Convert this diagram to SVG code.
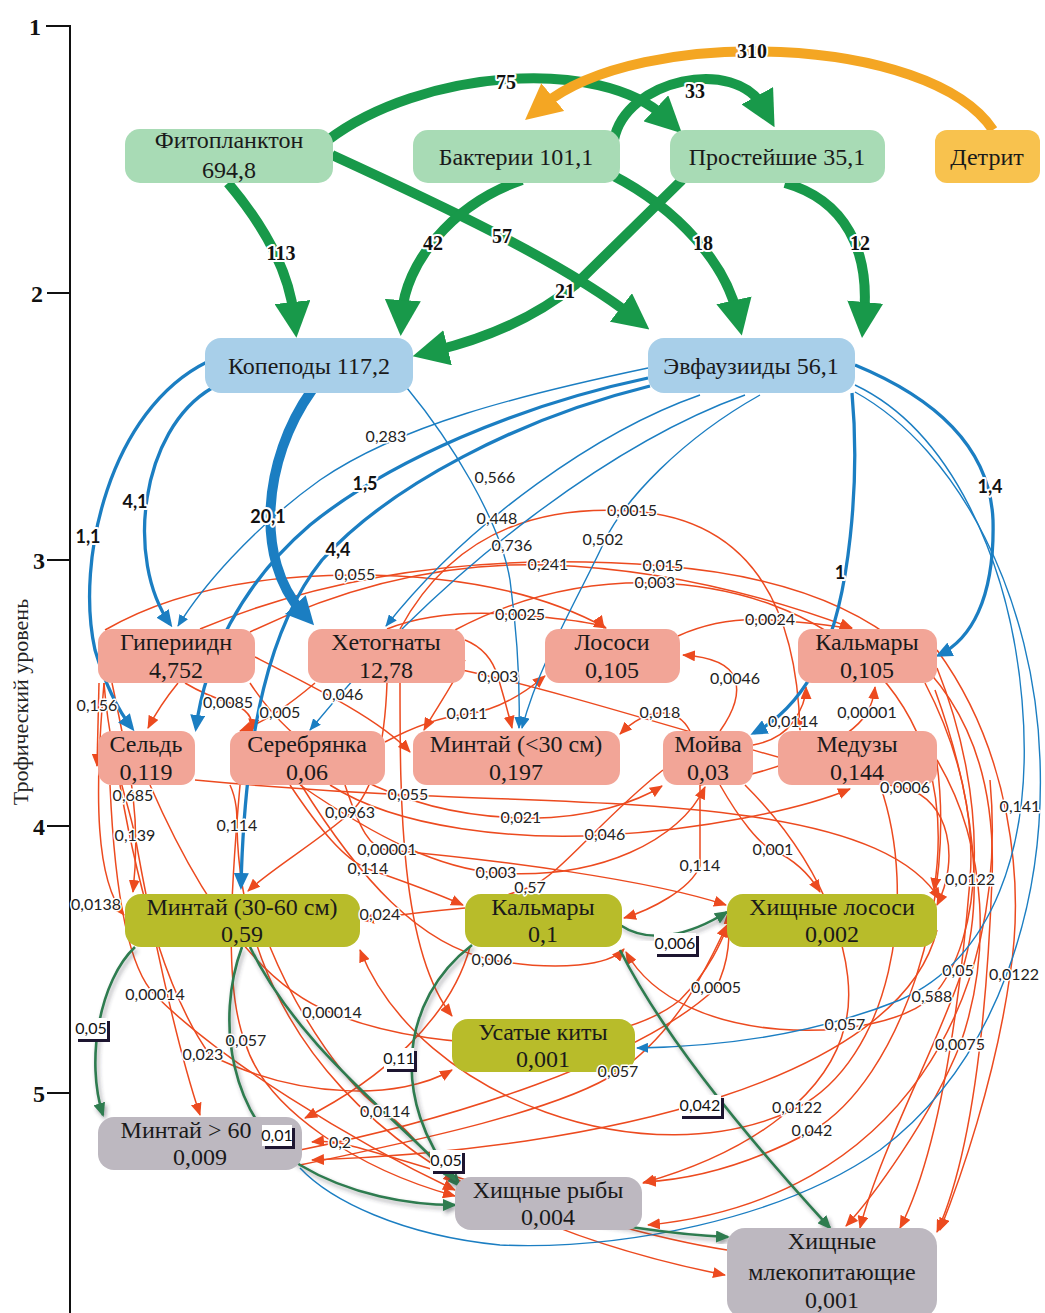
<svg xmlns="http://www.w3.org/2000/svg" width="1045" height="1313" viewBox="0 0 1045 1313">
<style>
.nt{font-family:"Liberation Serif",serif;font-size:24px;fill:#1a1a1a;text-anchor:middle}
.axn{font-family:"Liberation Serif",serif;font-size:24px;font-weight:bold;fill:#111;text-anchor:middle}
.axt{font-family:"Liberation Serif",serif;font-size:22px;fill:#222;text-anchor:middle}
.g{fill:none;stroke:#18994a;stroke-width:10;marker-end:url(#mg)}
.o{fill:none;stroke:#f4a623;stroke-width:10;marker-end:url(#mo)}
.bt{fill:none;stroke:#1b7ec2;stroke-width:1.4;marker-end:url(#mbt)}
.bm{fill:none;stroke:#1b7ec2;stroke-width:3.3;marker-end:url(#mbm)}
.bk{fill:none;stroke:#1b7ec2;stroke-width:10;marker-end:url(#mbk)}
.r{fill:none;stroke:#ec4a1f;stroke-width:1.5;marker-end:url(#mr)}
.dg{fill:none;stroke:#2e7b50;stroke-width:2.6;marker-end:url(#mdg);filter:url(#sh)}
.lt{font-family:"Liberation Serif",serif;font-size:20px;font-weight:bold;fill:#111;text-anchor:middle;paint-order:stroke;stroke:#fff;stroke-width:4px;stroke-linejoin:round}
.lbb{font-family:Lato,"Liberation Sans",sans-serif;font-size:18px;font-weight:bold;fill:#111;text-anchor:middle;paint-order:stroke;stroke:#fff;stroke-width:4px;stroke-linejoin:round}
.ls{font-family:Lato,"Liberation Sans",sans-serif;font-size:16px;fill:#222;text-anchor:middle;paint-order:stroke;stroke:#fff;stroke-width:3px;stroke-linejoin:round}
.lx{font-family:Lato,"Liberation Sans",sans-serif;font-size:16px;fill:#111;text-anchor:middle}
.bx{fill:#fff}
.bxs{fill:#1d1530}
.cg{fill:#a8dbb5}.cd{fill:#f8c24e}.cb{fill:#a8cfe9}.cs{fill:#f2a597}.co{fill:#b8bc2a}.cy{fill:#bdb8c0}
</style>
<defs>
<marker id="mg" markerUnits="userSpaceOnUse" markerWidth="36" markerHeight="36" viewBox="0 0 36 36" refX="14" refY="18" orient="auto"><path d="M0,0 L36,18 L0,36 z" fill="#18994a"/></marker>
<marker id="mo" markerUnits="userSpaceOnUse" markerWidth="36" markerHeight="36" viewBox="0 0 36 36" refX="14" refY="18" orient="auto"><path d="M0,0 L36,18 L0,36 z" fill="#f4a623"/></marker>
<marker id="mbk" markerUnits="userSpaceOnUse" markerWidth="28" markerHeight="28" viewBox="0 0 28 28" refX="10" refY="14" orient="auto"><path d="M0,0 L28,14 L0,28 z" fill="#1b7ec2"/></marker>
<marker id="mbm" markerUnits="userSpaceOnUse" markerWidth="17" markerHeight="15" viewBox="0 0 17 15" refX="13" refY="7.5" orient="auto"><path d="M0,0 L17,7.5 L0,15 z" fill="#1b7ec2"/></marker>
<marker id="mbt" markerUnits="userSpaceOnUse" markerWidth="12" markerHeight="10" viewBox="0 0 12 10" refX="11" refY="5" orient="auto"><path d="M0,0 L12,5 L0,10 z" fill="#1b7ec2"/></marker>
<marker id="mr" markerUnits="userSpaceOnUse" markerWidth="13" markerHeight="11" viewBox="0 0 13 11" refX="12" refY="5.5" orient="auto"><path d="M0,0 L13,5.5 L0,11 z" fill="#ec4a1f"/></marker>
<marker id="mdg" markerUnits="userSpaceOnUse" markerWidth="14" markerHeight="12" viewBox="0 0 14 12" refX="12" refY="6" orient="auto"><path d="M0,0 L14,6 L0,12 z" fill="#2e7b50"/></marker>
<filter id="sh" x="-10%" y="-10%" width="130%" height="130%"><feDropShadow dx="2" dy="3" stdDeviation="2" flood-color="#303040" flood-opacity="0.45"/></filter>
</defs>

<g id="axis">
<line x1="70" y1="26" x2="70" y2="1313" stroke="#111" stroke-width="2"/>
<line x1="46" y1="26" x2="71" y2="26" stroke="#111" stroke-width="2"/>
<line x1="47" y1="293" x2="70" y2="293" stroke="#111" stroke-width="2"/>
<line x1="47" y1="560" x2="70" y2="560" stroke="#111" stroke-width="2"/>
<line x1="47" y1="826" x2="70" y2="826" stroke="#111" stroke-width="2"/>
<line x1="47" y1="1093" x2="70" y2="1093" stroke="#111" stroke-width="2"/>
<text class="axn" x="35" y="35">1</text>
<text class="axn" x="37" y="302">2</text>
<text class="axn" x="39" y="569">3</text>
<text class="axn" x="39" y="835">4</text>
<text class="axn" x="39" y="1102">5</text>
<text class="axt" transform="translate(28,702) rotate(-90)">Трофический уровень</text>
</g>

<g id="connectors">
<g id="red">
<path class="r" d="M400,629 Q470,500 632,511 T800,730"/>
<path class="r" d="M250,632 Q400,560 548,565 T852,628"/>
<path class="r" d="M200,629 Q400,545 663,566 C880,583 1000,680 992,880 C985,1060 965,1170 937,1232"/>
<path class="r" d="M455,630 Q550,580 655,583 C820,588 965,690 934,890"/>
<path class="r" d="M105,630 Q200,575 355,575 T606,628"/>
<path class="r" d="M387,629 Q440,608 520,615 T604,628"/>
<path class="r" d="M678,636 Q720,617 770,620 T852,629"/>
<path class="r" d="M465,640 Q490,650 498,677 T512,728"/>
<path class="r" d="M720,731 Q742,700 735,679 T683,655"/>
<path class="r" d="M185,683 Q205,695 230,703 T252,731"/>
<path class="r" d="M315,683 Q295,700 277,712 T240,731"/>
<path class="r" d="M99,683 L97,766"/>
<path class="r" d="M385,742 Q430,718 467,714 T545,676"/>
<path class="r" d="M690,731 Q680,712 660,713 T620,734"/>
<path class="r" d="M753,745 Q780,740 793,722 T806,687"/>
<path class="r" d="M700,785 C790,770 850,740 867,713 C872,704 874,696 875,687"/>
<path class="r" d="M462,670 C600,700 800,770 905,788 C950,800 960,860 937,905"/>
<path class="r" d="M112,683 C122,730 130,770 133,796 C137,830 136,865 133,892"/>
<path class="r" d="M104,683 C110,760 128,800 135,836 C150,920 175,1040 200,1115"/>
<path class="r" d="M104,683 C94,800 96,880 124,915"/>
<path class="r" d="M230,785 C237,800 237,815 237,826 C240,1000 350,1200 725,1275"/>
<path class="r" d="M195,780 Q300,790 408,795 C620,805 880,800 940,900"/>
<path class="r" d="M387,683 C385,740 375,790 350,813 C320,840 270,870 248,891"/>
<path class="r" d="M250,683 C300,760 400,815 521,818 C590,820 640,800 662,786"/>
<path class="r" d="M330,785 C400,830 520,840 605,835 C700,830 800,810 850,789"/>
<path class="r" d="M345,785 C360,830 370,848 387,850 C500,860 650,880 726,905"/>
<path class="r" d="M290,785 C320,830 345,860 368,869 C400,880 440,895 463,905"/>
<path class="r" d="M720,785 C740,820 760,845 773,850 C795,860 810,875 820,892"/>
<path class="r" d="M700,785 C700,820 700,850 700,866 C690,890 650,910 624,918"/>
<path class="r" d="M300,785 C380,840 440,868 496,873 C600,880 680,840 705,787"/>
<path class="r" d="M663,770 C600,820 560,875 530,887 C500,898 480,903 467,906"/>
<path class="r" d="M465,908 Q420,912 362,920"/>
<path class="r" d="M300,783 C360,880 420,945 492,960 C560,972 610,965 624,949"/>
<path class="r" d="M300,1150 C450,1120 640,1060 716,988 C730,960 730,935 728,912"/>
<path class="r" d="M300,1165 C420,1140 560,1110 618,1072 C680,1030 710,960 727,925"/>
<path class="r" d="M745,785 C830,870 860,970 845,1025 C830,1090 760,1150 643,1183"/>
<path class="r" d="M937,668 C990,800 985,940 932,997 C880,1045 680,1050 626,952"/>
<path class="r" d="M925,683 C960,750 975,820 970,880 C960,1000 940,1150 900,1228"/>
<path class="r" d="M935,690 C975,800 985,900 962,971 C940,1040 880,1150 860,1228"/>
<path class="r" d="M937,650 C1010,750 1025,880 1010,975 C995,1080 960,1180 940,1230"/>
<path class="r" d="M937,760 C990,850 990,960 960,1045 C930,1120 870,1200 846,1226"/>
<path class="r" d="M110,785 C115,900 130,970 155,995 C220,1060 350,1140 455,1190"/>
<path class="r" d="M150,785 C200,900 260,985 332,1013 C450,1060 620,1050 680,1000 C710,970 722,940 728,925"/>
<path class="r" d="M120,785 C140,900 170,1000 210,1055 C300,1100 400,1100 452,1070"/>
<path class="r" d="M240,785 C230,900 225,990 245,1042 C265,1110 360,1170 455,1196"/>
<path class="r" d="M270,947 C300,1020 350,1090 385,1112 C410,1130 430,1160 455,1183"/>
<path class="r" d="M727,1250 C600,1230 450,1170 340,1143 C330,1141 322,1141 312,1142"/>
<path class="r" d="M937,930 C900,1080 600,1150 312,1160"/>
<path class="r" d="M880,785 C920,900 890,1060 797,1108 C650,1180 420,1100 360,950"/>
<path class="r" d="M935,750 C960,900 900,1080 812,1131 C740,1170 680,1180 644,1182"/>
<path class="r" d="M990,780 C1010,1000 900,1200 648,1225"/>
<path class="r" d="M178,683 Q160,705 148,728"/>
<path class="r" d="M400,683 C400,800 400,950 452,1016"/>
<path class="r" d="M255,657 C320,690 380,720 410,752"/>
<path class="r" d="M465,660 C450,690 435,710 424,730"/>
<path class="r" d="M470,947 C450,1020 380,1080 305,1118"/>
</g>
<g id="blue">
<path class="bt" d="M648,368 C520,395 400,425 320,480 C250,530 200,590 178,626"/>
<path class="bm" d="M648,378 C520,405 390,460 310,525 C240,585 205,660 196,728"/>
<path class="bm" d="M650,386 C520,418 390,485 322,560 C270,625 245,730 241,886"/>
<path class="bt" d="M700,395 C600,430 470,520 386,626"/>
<path class="bt" d="M745,395 C620,440 450,560 310,730"/>
<path class="bt" d="M760,395 C680,440 625,500 605,540 C585,585 540,660 522,728"/>
<path class="bt" d="M407,388 C450,440 500,520 510,580 C518,640 520,690 519,728"/>
<path class="bm" d="M852,393 C860,480 850,600 820,660 C800,700 775,722 754,733"/>
<path class="bm" d="M855,365 C940,400 990,450 993,520 C995,600 970,640 939,655"/>
<path class="bt" d="M855,385 C950,430 1010,560 1022,700 C1035,850 990,960 900,1000 C800,1040 700,1047 637,1048"/>
<path fill="none" stroke="#1b7ec2" stroke-width="1.4" d="M855,392 C960,450 1035,600 1040,760 C1045,900 1000,1060 880,1150 C780,1220 620,1250 500,1245 C400,1235 330,1200 300,1168"/>
<path class="bm" d="M207,362 C110,410 75,560 95,650 Q110,700 132,728"/>
<path class="bm" d="M212,388 C140,430 125,560 170,624"/>
<path class="bk" d="M312,390 C262,460 255,560 302,612"/>
</g>
<g id="darkgreen">
<path class="dg" d="M135,947 C100,980 85,1060 103,1115"/>
<path class="dg" d="M242,947 C215,1020 230,1120 300,1165 C350,1195 410,1205 455,1205"/>
<path class="dg" d="M250,947 C300,1050 400,1120 460,1186"/>
<path class="dg" d="M472,945 C400,1000 390,1100 455,1180"/>
<path class="dg" d="M620,925 C650,945 690,935 727,912"/>
<path class="dg" d="M620,950 C660,1030 740,1130 830,1228"/>
<path class="dg" d="M520,1205 C600,1225 680,1235 728,1237"/>
</g>
<g id="top">
<path class="g" d="M328,140 C420,70 600,55 666,118"/>
<path class="g" d="M614,140 C625,80 735,55 764,108"/>
<path class="o" d="M993,130 C930,35 640,25 542,106"/>
<path class="g" d="M228,183 C255,215 288,262 294,316"/>
<path class="g" d="M332,155 C430,200 560,260 632,316"/>
<path class="g" d="M522,180 C450,205 405,265 402,314"/>
<path class="g" d="M612,175 C680,210 726,265 737,314"/>
<path class="g" d="M682,180 L575,285 Q520,330 434,351"/>
<path class="g" d="M785,183 C845,200 870,250 864,316"/>
</g>
</g>

<g id="nodes">
<g id="n-phyto"><rect class="cg" x="125" y="129" width="208" height="54" rx="15"/><text class="nt" x="229" y="148">Фитопланктон</text><text class="nt" x="229" y="178">694,8</text></g>
<g id="n-bact"><rect class="cg" x="413" y="130" width="207" height="53" rx="15"/><text class="nt" x="516" y="165">Бактерии 101,1</text></g>
<g id="n-prot"><rect class="cg" x="670" y="130" width="215" height="53" rx="15"/><text class="nt" x="777" y="165">Простейшие 35,1</text></g>
<g id="n-detr"><rect class="cd" x="935" y="130" width="105" height="53" rx="12"/><text class="nt" x="987" y="165">Детрит</text></g>
<g id="n-cop"><rect class="cb" x="205" y="338" width="208" height="55" rx="16"/><text class="nt" x="309" y="374">Копеподы 117,2</text></g>
<g id="n-euph"><rect class="cb" x="648" y="338" width="207" height="55" rx="16"/><text class="nt" x="751" y="374">Эвфаузииды 56,1</text></g>
<g id="n-hyp"><rect class="cs" x="98" y="629" width="157" height="54" rx="14"/><text class="nt" x="176" y="650">Гипериидн</text><text class="nt" x="176" y="678">4,752</text></g>
<g id="n-chaet"><rect class="cs" x="308" y="629" width="157" height="54" rx="14"/><text class="nt" x="386" y="650">Хетогнаты</text><text class="nt" x="386" y="678">12,78</text></g>
<g id="n-salm"><rect class="cs" x="545" y="629" width="135" height="54" rx="14"/><text class="nt" x="612" y="650">Лососи</text><text class="nt" x="612" y="678">0,105</text></g>
<g id="n-squid1"><rect class="cs" x="798" y="629" width="139" height="54" rx="14"/><text class="nt" x="867" y="650">Кальмары</text><text class="nt" x="867" y="678">0,105</text></g>
<g id="n-herr"><rect class="cs" x="98" y="731" width="97" height="54" rx="14"/><text class="nt" x="146" y="752">Сельдь</text><text class="nt" x="146" y="780">0,119</text></g>
<g id="n-smelt"><rect class="cs" x="230" y="731" width="155" height="54" rx="14"/><text class="nt" x="307" y="752">Серебрянка</text><text class="nt" x="307" y="780">0,06</text></g>
<g id="n-poll1"><rect class="cs" x="413" y="731" width="207" height="54" rx="14"/><text class="nt" x="516" y="752">Минтай (&lt;30 см)</text><text class="nt" x="516" y="780">0,197</text></g>
<g id="n-cap"><rect class="cs" x="663" y="731" width="90" height="54" rx="14"/><text class="nt" x="708" y="752">Мойва</text><text class="nt" x="708" y="780">0,03</text></g>
<g id="n-jelly"><rect class="cs" x="778" y="731" width="159" height="54" rx="14"/><text class="nt" x="857" y="752">Медузы</text><text class="nt" x="857" y="780">0,144</text></g>
<g id="n-poll2"><rect class="co" x="125" y="894" width="235" height="53" rx="16"/><text class="nt" x="242" y="915">Минтай (30-60 см)</text><text class="nt" x="242" y="942">0,59</text></g>
<g id="n-squid2"><rect class="co" x="465" y="894" width="157" height="53" rx="16"/><text class="nt" x="543" y="915">Кальмары</text><text class="nt" x="543" y="942">0,1</text></g>
<g id="n-psalm"><rect class="co" x="727" y="894" width="210" height="53" rx="16"/><text class="nt" x="832" y="915">Хищные лососи</text><text class="nt" x="832" y="942">0,002</text></g>
<g id="n-whale"><rect class="co" x="452" y="1019" width="183" height="53" rx="16"/><text class="nt" x="543" y="1040">Усатые киты</text><text class="nt" x="543" y="1067">0,001</text></g>
<g id="n-poll3"><rect class="cy" x="98" y="1117" width="204" height="53" rx="16"/><text class="nt" x="186" y="1138">Минтай &gt; 60</text><text class="nt" x="200" y="1165">0,009</text></g>
<g id="n-pfish"><rect class="cy" x="455" y="1177" width="187" height="53" rx="16"/><text class="nt" x="548" y="1198">Хищные рыбы</text><text class="nt" x="548" y="1225">0,004</text></g>
<g id="n-pmam"><rect class="cy" x="727" y="1228" width="210" height="90" rx="18"/><text class="nt" x="832" y="1249">Хищные</text><text class="nt" x="832" y="1280">млекопитающие</text><text class="nt" x="832" y="1308">0,001</text></g>
</g>

<g id="labels">
<text class="lt" x="506" y="89">75</text>
<text class="lt" x="695" y="98">33</text>
<text class="lt" x="752" y="58">310</text>
<text class="lt" x="281" y="260">113</text>
<text class="lt" x="502" y="243">57</text>
<text class="lt" x="433" y="250">42</text>
<text class="lt" x="703" y="250">18</text>
<text class="lt" x="565" y="298">21</text>
<text class="lt" x="860" y="250">12</text>

<text class="lbb" x="88" y="543">1,1</text>
<text class="lbb" x="135" y="508">4,1</text>
<text class="lbb" x="268" y="523">20,1</text>
<text class="lbb" x="365" y="490">1,5</text>
<text class="lbb" x="338" y="556">4,4</text>
<text class="lbb" x="840" y="579">1</text>
<text class="lbb" x="990" y="493">1,4</text>

<text class="ls" x="386" y="442">0,283</text>
<text class="ls" x="495" y="483">0,566</text>
<text class="ls" x="497" y="524">0,448</text>
<text class="ls" x="512" y="551">0,736</text>
<text class="ls" x="603" y="545">0,502</text>
<text class="ls" x="343" y="700">0,046</text>
<text class="ls" x="1020" y="812">0,141</text>

<text class="ls" x="632" y="516">0,0015</text>
<text class="ls" x="548" y="570">0,241</text>
<text class="ls" x="663" y="571">0,015</text>
<text class="ls" x="655" y="588">0,003</text>
<text class="ls" x="355" y="580">0,055</text>
<text class="ls" x="520" y="620">0,0025</text>
<text class="ls" x="770" y="625">0,0024</text>
<text class="ls" x="498" y="682">0,003</text>
<text class="ls" x="735" y="684">0,0046</text>
<text class="ls" x="228" y="708">0,0085</text>
<text class="ls" x="280" y="718">0,005</text>
<text class="ls" x="97" y="711">0,156</text>
<text class="ls" x="467" y="719">0,011</text>
<text class="ls" x="660" y="718">0,018</text>
<text class="ls" x="793" y="727">0,0114</text>
<text class="ls" x="867" y="718">0,00001</text>
<text class="ls" x="133" y="801">0,685</text>
<text class="ls" x="408" y="800">0,055</text>
<text class="ls" x="350" y="818">0,0963</text>
<text class="ls" x="521" y="823">0,021</text>
<text class="ls" x="905" y="793">0,0006</text>
<text class="ls" x="135" y="841">0,139</text>
<text class="ls" x="237" y="831">0,114</text>
<text class="ls" x="605" y="840">0,046</text>
<text class="ls" x="387" y="855">0,00001</text>
<text class="ls" x="368" y="874">0,114</text>
<text class="ls" x="773" y="855">0,001</text>
<text class="ls" x="700" y="871">0,114</text>
<text class="ls" x="496" y="878">0,003</text>
<text class="ls" x="530" y="893">0,57</text>
<text class="ls" x="96" y="910">0,0138</text>
<text class="ls" x="380" y="920">0,024</text>
<text class="ls" x="970" y="885">0,0122</text>
<text class="ls" x="492" y="965">0,006</text>
<text class="ls" x="716" y="993">0,0005</text>
<text class="ls" x="958" y="976">0,05</text>
<text class="ls" x="1014" y="980">0,0122</text>
<text class="ls" x="932" y="1002">0,588</text>
<text class="ls" x="155" y="1000">0,00014</text>
<text class="ls" x="332" y="1018">0,00014</text>
<text class="ls" x="845" y="1030">0,057</text>
<text class="ls" x="960" y="1050">0,0075</text>
<text class="ls" x="203" y="1060">0,023</text>
<text class="ls" x="246" y="1046">0,057</text>
<text class="ls" x="618" y="1077">0,057</text>
<text class="ls" x="385" y="1117">0,0114</text>
<text class="ls" x="797" y="1113">0,0122</text>
<text class="ls" x="812" y="1136">0,042</text>
<text class="ls" x="340" y="1148">0,2</text>

<g id="boxed-labels">
<rect class="bxs" x="78" y="1021" width="32" height="21"/><rect class="bx" x="75" y="1018" width="32" height="21"/><text class="lx" x="91" y="1034">0,05</text>
<rect class="bxs" x="657" y="936" width="42" height="21"/><rect class="bx" x="654" y="933" width="42" height="21"/><text class="lx" x="675" y="949">0,006</text>
<rect class="bxs" x="387" y="1051" width="30" height="21"/><rect class="bx" x="384" y="1048" width="30" height="21"/><text class="lx" x="399" y="1064">0,11</text>
<rect class="bxs" x="682" y="1098" width="42" height="21"/><rect class="bx" x="679" y="1095" width="42" height="21"/><text class="lx" x="700" y="1111">0,042</text>
<rect class="bxs" x="265" y="1128" width="30" height="21"/><rect class="bx" x="262" y="1125" width="30" height="21"/><text class="lx" x="277" y="1141">0,01</text>
<rect class="bxs" x="433" y="1153" width="32" height="21"/><rect class="bx" x="430" y="1150" width="32" height="21"/><text class="lx" x="446" y="1166">0,05</text>
</g>
</g>
</svg>
